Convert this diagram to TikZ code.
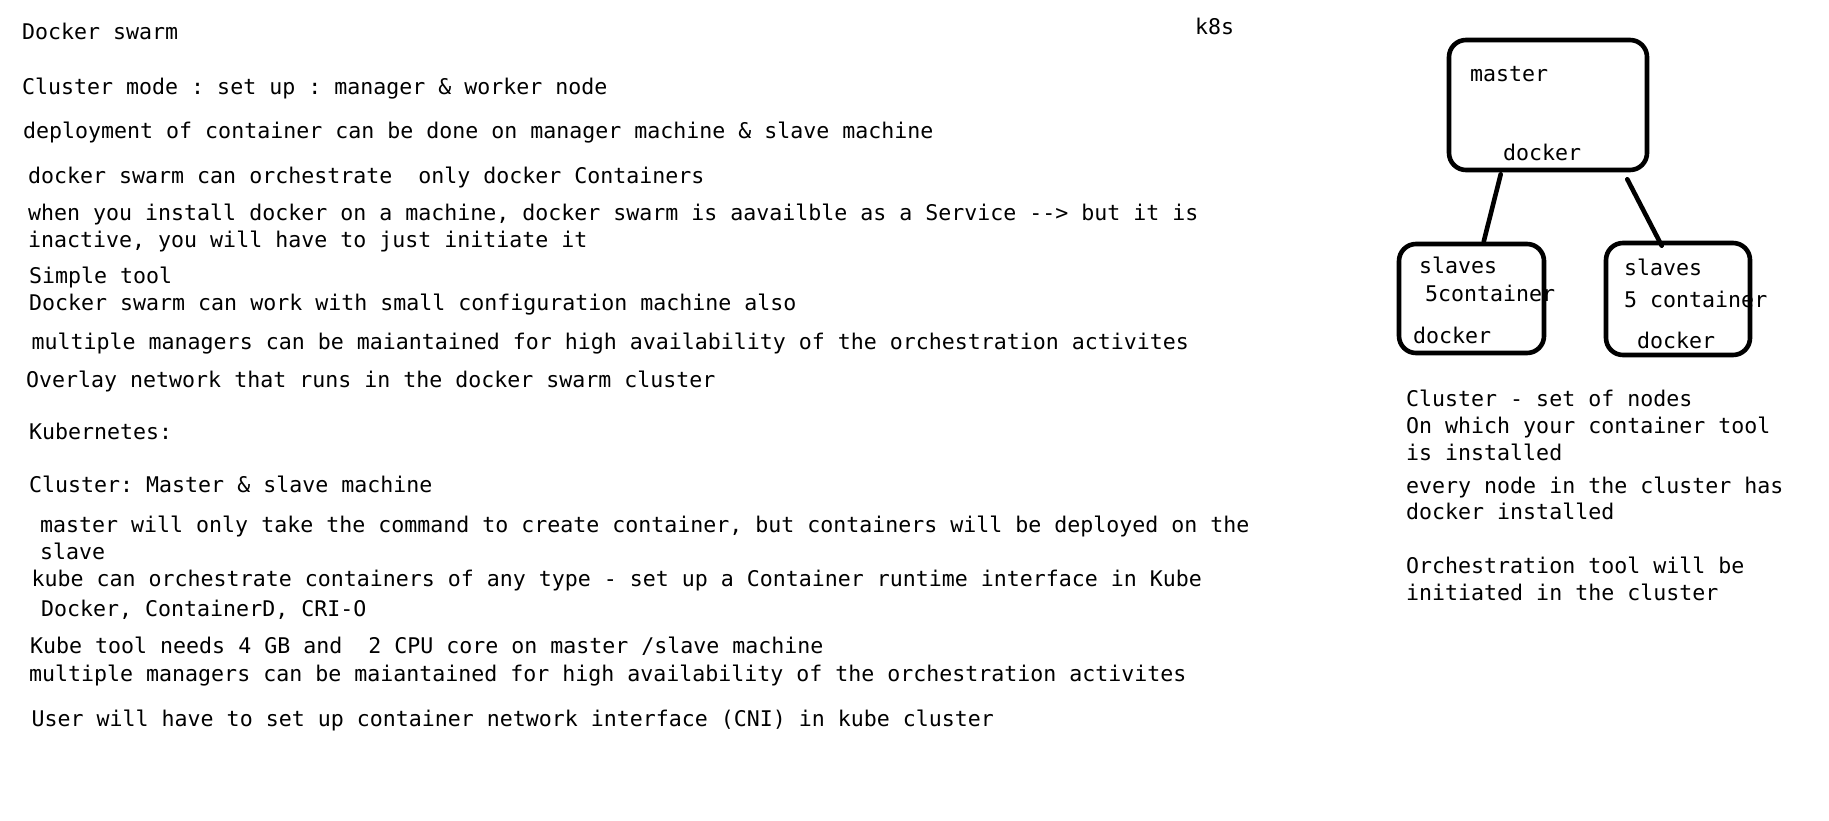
\documentclass[tikz,border=0pt]{standalone}
\usepackage{fontspec}
\setmonofont{DejaVu Sans Mono}
\usetikzlibrary{calc}
\begin{document}
\begin{tikzpicture}[x=1pt,y=-1pt,
  txt/.style={anchor=base west, inner sep=0pt, yshift=-1.5pt, font=\ttfamily\fontsize{21.6}{27}\selectfont},
  box/.style={draw, line width=4.6pt, rounded corners=17pt, inner sep=0pt},
  link/.style={line width=4.6pt, line cap=round}]
\useasboundingbox (0,0) rectangle (1829,821);
\fill[white] (0,0) rectangle (1829,821);
% left column
\node[txt] (l1) at (22,38.5) {Docker swarm};
\node[txt] (l2) at (22,93) {Cluster mode : set up : manager \& worker node};
\node[txt] (l3) at (23,137) {deployment of container can be done on manager machine \& slave machine};
\node[txt] (l4) at (28,182) {docker swarm can orchestrate\ \ only docker Containers};
\node[txt] (l5) at (28,219) {when you install docker on a machine, docker swarm is aavailble as a Service -{}-{}> but it is};
\node[txt] (l6) at (28,246) {inactive, you will have to just initiate it};
\node[txt] (l7) at (29,282) {Simple tool};
\node[txt] (l8) at (29,309) {Docker swarm can work with small configuration machine also};
\node[txt] (l9) at (31.5,348) {multiple managers can be maiantained for high availability of the orchestration activites};
\node[txt] (l10) at (26,386) {Overlay network that runs in the docker swarm cluster};
\node[txt] (l11) at (29,438) {Kubernetes:};
\node[txt] (l12) at (29,491) {Cluster: Master \& slave machine};
\node[txt] (l13) at (40,531) {master will only take the command to create container, but containers will be deployed on the};
\node[txt] (l14) at (40,558) {slave};
\node[txt] (l15) at (31.5,585) {kube can orchestrate containers of any type - set up a Container runtime interface in Kube};
\node[txt] (l16) at (41,615) {Docker, ContainerD, CRI-O};
\node[txt] (l17) at (30,652) {Kube tool needs 4 GB and\ \ 2 CPU core on master /slave machine};
\node[txt] (l18) at (29,680) {multiple managers can be maiantained for high availability of the orchestration activites};
\node[txt] (l19) at (31.5,725) {User will have to set up container network interface (CNI) in kube cluster};
\node[txt] (k8s) at (1195,33) {k8s};
% diagram
\node[box, minimum width=198pt, minimum height=130pt] (ms) at (1548,105) {};
\node[box, minimum width=145pt, minimum height=109pt] (s1) at (1471.5,298.5) {};
\node[box, minimum width=144pt, minimum height=112pt] (s2) at (1678,299) {};
\node[txt] (msl) at (1470,80) {master};
\node[txt] (msd) at (1503,159) {docker};
\node[txt] (s1a) at (1419,272) {slaves};
\node[txt] (s1b) at (1425,300) {5container};
\node[txt] (s1c) at (1413,342) {docker};
\node[txt] (s2a) at (1624,274) {slaves};
\node[txt] (s2b) at (1624,306) {5 container};
\node[txt] (s2c) at (1637,347) {docker};
\draw[link] ($(ms.south west)+(54,2)$) -- ($(s1.north west)+(87,0)$);
\draw[link] ($(ms.south east)+(-22,7)$) -- ($(s2.north west)+(58,5)$);
% right notes
\node[txt] (r1) at (1406,405) {Cluster - set of nodes};
\node[txt] (r2) at (1406,432) {On which your container tool};
\node[txt] (r3) at (1406,459) {is installed};
\node[txt] (r4) at (1406,492) {every node in the cluster has};
\node[txt] (r5) at (1406,518) {docker installed};
\node[txt] (r6) at (1406,572) {Orchestration tool will be};
\node[txt] (r7) at (1406,599) {initiated in the cluster};
\end{tikzpicture}
\end{document}
